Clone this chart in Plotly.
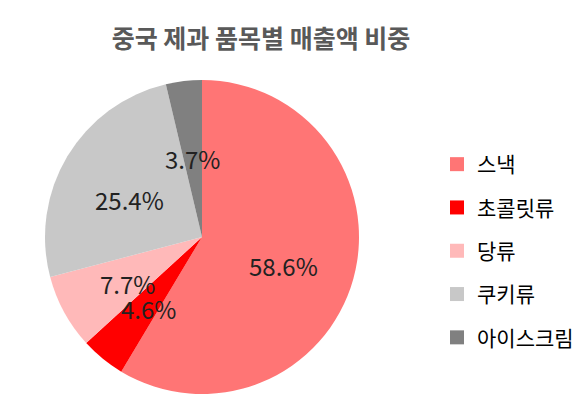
import numpy as np
import plotly.graph_objects as go

# 중국 제과 품목별 매출액 비중 (%)
categories = ['스낵', '초콜릿류', '당류', '쿠키류', '아이스크림']
shares = [58.6, 4.6, 7.7, 25.4, 3.7]
colors = ['#FF7575', '#FF0000', '#FFB9B9', '#C8C8C8', '#808080']

W, H = 587, 410
OFF = 8  # page body margin in the browser
# pie placement in pixels (page coordinates)
cx, cy, R = 202 - OFF, 237 - OFF, 157

fig = go.Figure()

fig.add_trace(go.Pie(
    labels=categories,
    values=shares,
    sort=False,
    direction='clockwise',
    rotation=0,
    marker=dict(colors=colors, line=dict(width=0)),
    textinfo='none',
    hoverinfo='label+percent',
    showlegend=False,
    domain=dict(x=[(cx - R) / W, (cx + R) / W],
                y=[(H - cy - R) / H, (H - cy + R) / H]),
))

# percentage labels at the middle of each slice
total = sum(shares)
start = 0.0
for v in shares:
    mid = (start + v / 2) / total * 2 * np.pi
    start += v
    r = 0.54 * R
    fig.add_annotation(
        x=(cx + r * np.sin(mid)) / W,
        y=(H - cy + r * np.cos(mid) - 6) / H,
        xref='paper', yref='paper',
        xanchor='center', yanchor='middle',
        text=f'{v:.1f}%', showarrow=False,
        font=dict(size=24, color='#222222'),
    )

# legend entries with square markers
for name, c in zip(categories, colors):
    fig.add_trace(go.Scatter(
        x=[None], y=[None], mode='markers', name=name,
        legendgroup=name,
        marker=dict(symbol='square', size=14, color=c),
    ))

fig.update_layout(
    width=W, height=H,
    margin=dict(l=0, r=0, t=0, b=0),
    paper_bgcolor='white',
    plot_bgcolor='white',
    font=dict(family='Noto Sans CJK KR'),
    title=dict(text='<b>중국 제과 품목별 매출액 비중</b>',
               x=(261 - OFF) / W, xanchor='center',
               y=1 - (39 - OFF) / H, yanchor='middle',
               font=dict(size=25, color='#595959')),
    xaxis=dict(visible=False),
    yaxis=dict(visible=False),
    legend=dict(x=429 / W, xanchor='left', y=1 - 136 / H, yanchor='top',
                font=dict(size=21, color='#000000'),
                tracegroupgap=13, itemwidth=30),
)

fig.write_html('out.html')
